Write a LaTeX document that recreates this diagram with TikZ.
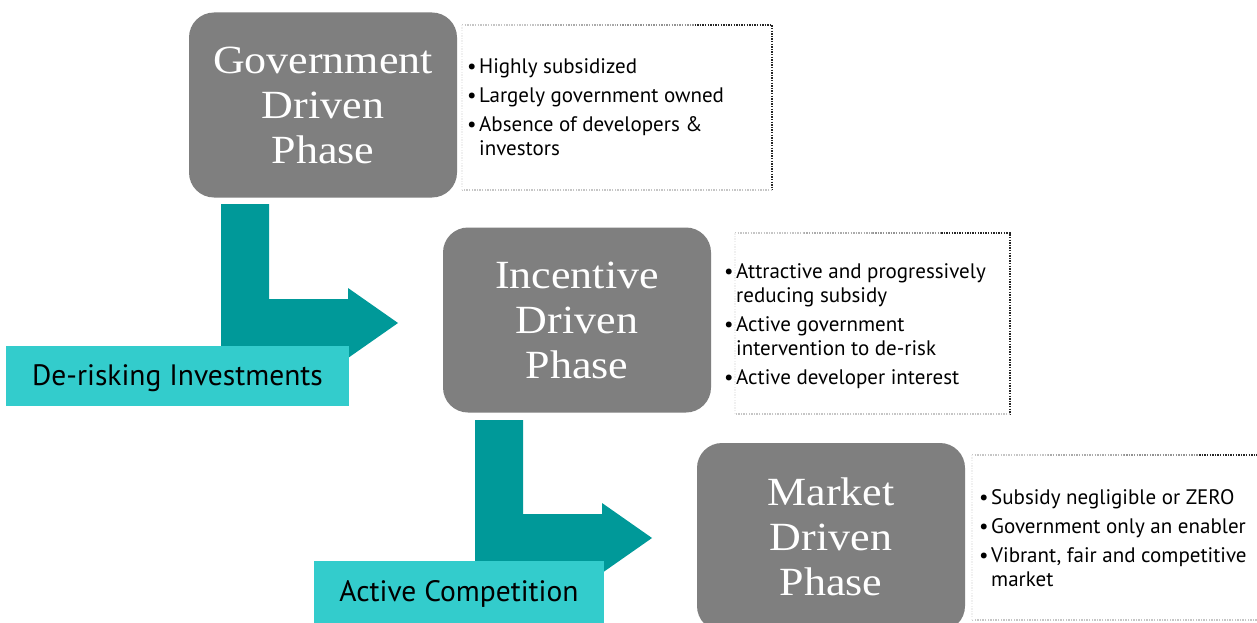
\documentclass[tikz,border=0pt]{standalone}
\usepackage{fontspec}
\setmainfont{PT Sans}
\newfontfamily\phasefont[FakeStretch=1.1]{Liberation Serif}
\definecolor{boxgray}{HTML}{7F7F7F}
\definecolor{arrteal}{HTML}{009999}
\definecolor{labcyan}{HTML}{33CCCC}
\newcommand\bitem[1]{\par\hangindent=12pt\hangafter=1\noindent\makebox[12pt][l]{\textbullet}#1\par}
\newcommand\bgap{\vspace{5pt}}
\newcommand\blist[1]{\begin{minipage}{320pt}\raggedright\fontsize{21}{24}\selectfont #1\end{minipage}}
\newcommand\dotbox[4]{%
  \draw[dotline,gray!45] (#1,#2) -- ({#1+(#3-#1)*0.25},#2);
  \draw[dotline,gray!65] ({#1+(#3-#1)*0.25},#2) -- ({#1+(#3-#1)*0.5},#2);
  \draw[dotline,gray!85] ({#1+(#3-#1)*0.5},#2) -- ({#1+(#3-#1)*0.75},#2);
  \draw[dotline,black!85] ({#1+(#3-#1)*0.75},#2) -- (#3,#2) -- (#3,#4);
  \draw[dotline,gray!45] (#3,#4) -- (#1,#4);
  \draw[dotline,gray!12] (#1,#4) -- (#1,#2);
}
\begin{document}
\begin{tikzpicture}[x=1pt,y=-1pt,
  phase/.style={fill=boxgray, rounded corners=25pt, text=white,
    font=\phasefont\fontsize{40}{45}\selectfont, align=center,
    minimum width=268pt, minimum height=185pt, inner sep=0pt},
  bullets/.style={inner sep=0pt, anchor=west},
  tag/.style={font=\fontsize{29.5}{32}\selectfont, inner sep=0pt},
  blockarrow/.style={fill=arrteal},
  dotline/.style={line width=1.6pt, dash pattern=on 1.4pt off 1.2pt}]
\useasboundingbox (0,0) rectangle (1257,623);
\fill[white] (0,0) rectangle (1257,623);

% phase boxes
\node[phase] (gov) at (323,105) {Government\\Driven\\Phase};
\node[phase] (inc) at (577,320) {Incentive\\Driven\\Phase};
\node[phase, minimum height=188pt] (mkt) at (831,537) {Market\\Driven\\Phase};

% dotted description boxes
\dotbox{462}{25}{772}{190}
\dotbox{735}{233}{1010}{414}
\dotbox{972}{455}{1275}{620}

\node[bullets] (l1) at (467,107) {\blist{\bitem{Highly subsidized}\bgap\bitem{Largely government owned}\bgap\bitem{Absence of developers \&\newline investors}}};
\node[bullets] (l2) at (724,326) {\blist{\bitem{Attractive and progressively\newline reducing subsidy}\bgap\bitem{Active government\newline intervention to de-risk}\bgap\bitem{Active developer interest}}};
\node[bullets] (l3) at (979,538) {\blist{\bitem{Subsidy negligible or ZERO}\bgap\bitem{Government only an enabler}\bgap\bitem{Vibrant, fair and competitive\newline market}}};

% block arrows
\fill[blockarrow] (221,204) -- (269,204) -- (269,299) -- (348,299) -- (348,288)
  -- (398,323) -- (348,358) -- (348,347) -- (221,347) -- cycle;
\fill[blockarrow] (475,420) -- (523,420) -- (523,514) -- (602,514) -- (602,503)
  -- (652,538) -- (602,573) -- (602,562) -- (475,562) -- cycle;

% labels
\fill[labcyan] (6,346) rectangle (349,406);
\node[tag] (t1) at (177.5,378) {De-risking Investments};
\fill[labcyan] (314,561) rectangle (604,625);
\node[tag] (t2) at (459,594) {Active Competition};
\end{tikzpicture}
\end{document}
